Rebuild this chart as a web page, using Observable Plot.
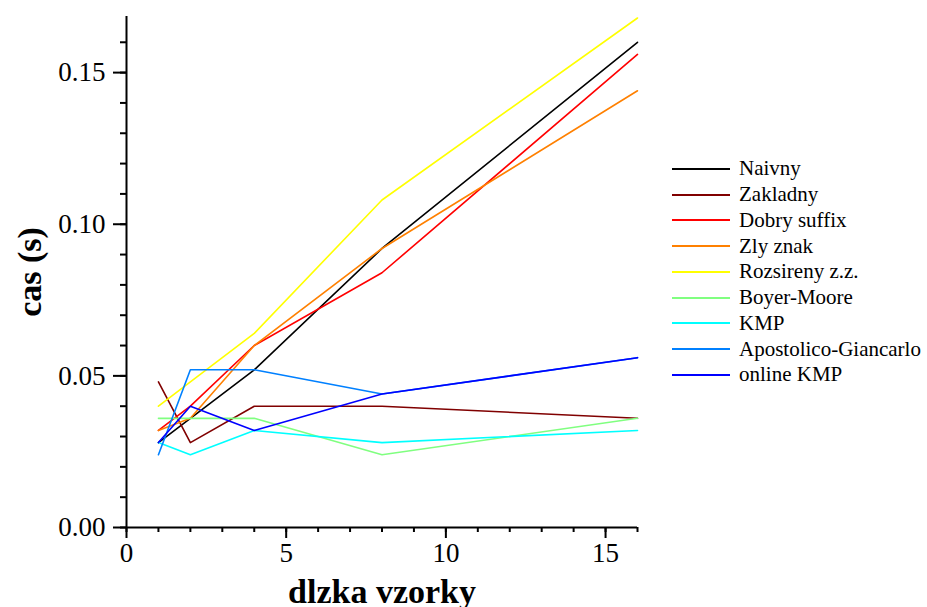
<!DOCTYPE html>
<html>
<head>
<meta charset="utf-8">
<script src="https://cdn.jsdelivr.net/npm/d3@7"></script>
<script src="https://cdn.jsdelivr.net/npm/@observablehq/plot@0.6"></script>
<style>
  body { margin: 0; background: #fff; }
  #wrap { position: relative; width: 927px; height: 607px; overflow: hidden; font-family: "Liberation Serif", "Times New Roman", Times, serif; }
  #legend { position: absolute; left: 672px; top: 156px; font-size: 21px; color: #000; font-family: "Liberation Serif", "Times New Roman", Times, serif; }
  .row { height: 25.75px; display: flex; align-items: center; white-space: nowrap; }
  .swatch { width: 58px; height: 2px; margin-right: 9px; }
</style>
</head>
<body>
<div id="wrap"><div id="chart"></div><div id="legend"></div></div>
<script>
// pattern lengths (x) shared by every series
const lengths = [1, 2, 4, 8, 16];
// series names, colours and timings (s)
const seriesNames = ["Naivny", "Zakladny", "Dobry suffix", "Zly znak", "Rozsireny z.z.", "Boyer-Moore", "KMP", "Apostolico-Giancarlo", "online KMP"];
const seriesColors = ["#000000", "#800000", "#ff0000", "#ff8000", "#ffff00", "#80ff80", "#00ffff", "#0080ff", "#0000ff"];
const naivny     = [0.028, 0.036, 0.052, 0.092, 0.160];
const zakladny   = [0.048, 0.028, 0.040, 0.040, 0.036];
const dobrySuffix= [0.032, 0.040, 0.060, 0.084, 0.156];
const zlyZnak    = [0.032, 0.036, 0.060, 0.092, 0.144];
const rozsireny  = [0.040, 0.048, 0.064, 0.108, 0.168];
const boyerMoore = [0.036, 0.036, 0.036, 0.024, 0.036];
const kmp        = [0.028, 0.024, 0.032, 0.028, 0.032];
const apostolico = [0.024, 0.052, 0.052, 0.044, 0.056];
const onlineKmp  = [0.028, 0.040, 0.032, 0.044, 0.056];
const seriesValues = [naivny, zakladny, dobrySuffix, zlyZnak, rozsireny, boyerMoore, kmp, apostolico, onlineKmp];
// axis ticks
const xMajorTicks = [0, 5, 10, 15];
const xMinorTicks = [0, 1, 2, 3, 4, 5, 6, 7, 8, 9, 10, 11, 12, 13, 14, 15, 16];
const yMajorTicks = [0, 0.05, 0.10, 0.15];
const yMinorTicks = [0, 0.01, 0.02, 0.03, 0.04, 0.05, 0.06, 0.07, 0.08, 0.09, 0.10, 0.11, 0.12, 0.13, 0.14, 0.15, 0.16];
const xTitle = "dlzka vzorky";
const yTitle = "cas (s)";

const rows = [];
seriesNames.forEach((name, i) => {
  seriesValues[i].forEach((v, j) => rows.push({series: name, x: lengths[j], y: v}));
});

const font = "Liberation Serif, Times New Roman, Times, serif";
const plot = Plot.plot({
  width: 660,
  height: 607,
  marginLeft: 126,
  marginRight: 23,
  marginTop: 16,
  marginBottom: 80,
  style: {fontFamily: font, background: "white", overflow: "visible"},
  x: {domain: [0, 16]},
  y: {domain: [0, 0.1685]},
  color: {domain: seriesNames, range: seriesColors},
  marks: [
    Plot.axisX(xMinorTicks, {tickSize: 5, tickFormat: () => "", strokeWidth: 2, label: null}),
    Plot.axisX(xMajorTicks, {tickSize: 11, tickPadding: 4, strokeWidth: 2, fontSize: 27, fontFamily: font, fill: "black", label: null, tickFormat: d => String(d)}),
    Plot.axisY(yMinorTicks, {tickSize: 6, tickFormat: () => "", strokeWidth: 2, label: null}),
    Plot.axisY(yMajorTicks, {tickSize: 13, tickPadding: 8, strokeWidth: 2, fontSize: 27, fontFamily: font, fill: "black", label: null, tickFormat: d3.format(".2f")}),
    Plot.ruleY([0], {strokeWidth: 2}),
    Plot.ruleX([0], {strokeWidth: 2}),
    Plot.lineY(rows, {x: "x", y: "y", stroke: "series", z: "series", strokeWidth: 1.6, curve: "linear"}),
    Plot.text([xTitle], {frameAnchor: "bottom", dy: 65, lineAnchor: "middle", textAnchor: "middle", fontSize: 34, fontWeight: "bold", fontFamily: font, text: d => d}),
    Plot.text([yTitle], {frameAnchor: "left", dx: -96, rotate: -90, lineAnchor: "middle", textAnchor: "middle", fontSize: 34, fontWeight: "bold", fontFamily: font, text: d => d})
  ]
});
document.getElementById("chart").appendChild(plot);

const legend = document.getElementById("legend");
seriesNames.forEach((name, i) => {
  const row = document.createElement("div");
  row.className = "row";
  const sw = document.createElement("div");
  sw.className = "swatch";
  sw.style.background = seriesColors[i];
  const label = document.createElement("span");
  label.textContent = name;
  row.appendChild(sw);
  row.appendChild(label);
  legend.appendChild(row);
});
</script>
</body>
</html>
